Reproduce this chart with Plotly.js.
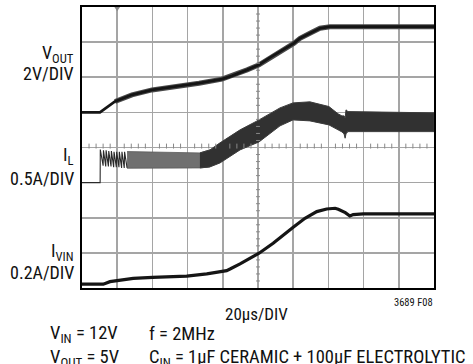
<!DOCTYPE html>
<html>
<head>
<meta charset="utf-8">
<script src="https://cdn.plot.ly/plotly-3.0.1.min.js"></script>
<style>html,body{margin:0;padding:0;background:#fff;}#chart{width:473px;height:364px;}</style>
</head>
<body>
<div id="chart"></div>
<script>
// ---- data (time in µs, 20µs/DIV) ----
const timeVout = [0, 10.2, 18.75, 28.4, 39.8, 56.8, 66.5, 79.5, 85.2, 93.8, 100.6, 106.8, 112.5, 120.5, 123.9, 129.5, 135.2, 140.9, 200];
const vout     = [0, 0, 0.62, 1.0, 1.28, 1.51, 1.66, 1.89, 2.08, 2.42, 2.71, 3.12, 3.45, 3.94, 4.22, 4.51, 4.79, 4.88, 4.88]; // V

const timeIlStart = [0, 10.3, 10.4, 12.0, 12.2, 13.5, 13.7, 15.0, 15.2, 16.5, 16.7, 18.0, 18.2, 19.5, 19.7, 21.0, 21.2, 22.5, 22.7, 24.0, 24.2, 25.6];
const ilStart     = [0, 0, 0.47, 0.24, 0.46, 0.23, 0.46, 0.23, 0.45, 0.23, 0.45, 0.22, 0.44, 0.22, 0.44, 0.22, 0.44, 0.21, 0.44, 0.21, 0.44, 0.21]; // A

const timeIlBand = [25.6, 44.3, 67.0, 72.7, 78.4, 89.8, 100.6, 112.5, 119.9, 129.5, 140.3, 145.5, 147.7, 148.9, 149.5, 150.0, 151.1, 200];
const ilUpper    = [0.442, 0.437, 0.423, 0.466, 0.566, 0.751, 0.893, 1.064, 1.135, 1.150, 1.083, 0.979, 0.950, 0.950, 0.922, 1.036, 1.011, 0.993]; // A
const ilLower    = [0.205, 0.205, 0.209, 0.224, 0.280, 0.466, 0.580, 0.808, 0.893, 0.879, 0.822, 0.751, 0.722, 0.694, 0.632, 0.694, 0.726, 0.726]; // A

const timeIvin = [0, 12.1, 15.9, 19.7, 29.1, 40.1, 59.5, 70.9, 82.2, 84.1, 89.8, 100.6, 108.6, 120.0, 126.7, 133.4, 139.0, 143.8, 145.6, 149.6, 152.2, 154.1, 159.8, 200];
const ivin     = [0, 0, 0.014, 0.020, 0.033, 0.039, 0.046, 0.058, 0.077, 0.086, 0.115, 0.176, 0.233, 0.324, 0.375, 0.413, 0.428, 0.432, 0.426, 0.407, 0.388, 0.396, 0.400, 0.400]; // A

const chLabels = ["V<sub>OUT</sub>", "2V/DIV", "I<sub>L</sub>", "0.5A/DIV", "I<sub>VIN</sub>", "0.2A/DIV"];
const xLabel = "20µs/DIV";
const figId = "3689 F08";
const notes = ["V<sub>IN</sub> = 12V", "f = 2MHz", "V<sub>OUT</sub> = 5V", "C<sub>IN</sub> = 1µF CERAMIC + 100µF ELECTROLYTIC"];

// channel scale (units per division) and ground position (divisions)
const voutScale = 2, voutGnd = 5;
const ilScale = 0.5, ilGnd = 3;
const ivinScale = 0.2, ivinGnd = 0.11;
const toDiv = (arr, s, g) => arr.map(v => g + v / s);

const FONT = "'Liberation Sans Narrow', 'Arial Narrow', 'Roboto Condensed', 'Liberation Sans', sans-serif";

// band split
function bandPoly(t0, t1) {
  const idx = timeIlBand.map((t, i) => i).filter(i => timeIlBand[i] >= t0 && timeIlBand[i] <= t1);
  const xs = idx.map(i => timeIlBand[i]);
  const up = idx.map(i => ilGnd + ilUpper[i] / ilScale);
  const lo = idx.map(i => ilGnd + ilLower[i] / ilScale);
  return { x: xs.concat(xs.slice().reverse()), y: up.concat(lo.slice().reverse()) };
}
const b1 = bandPoly(0, 72.7), b2 = bandPoly(67, 200);

const traces = [
  { x: b1.x, y: b1.y, mode: 'lines', fill: 'toself', fillcolor: '#707070', line: { color: '#5a5a5a', width: 0.8 }, hoverinfo: 'skip' },
  { x: b2.x, y: b2.y, mode: 'lines', fill: 'toself', fillcolor: '#313131', line: { color: '#3c3c3c', width: 1 }, hoverinfo: 'skip' },
  { x: timeIlStart, y: toDiv(ilStart, ilScale, ilGnd), mode: 'lines', line: { color: '#2a2a2a', width: 1.1 } },
  { x: timeVout.slice(2), y: toDiv(vout.slice(2), voutScale, voutGnd), mode: 'lines', line: { color: '#4a4a4a', width: 5 } },
  { x: timeVout, y: toDiv(vout, voutScale, voutGnd), mode: 'lines', line: { color: '#151515', width: 2.8 } },
  { x: timeIvin, y: toDiv(ivin, ivinScale, ivinGnd), mode: 'lines', line: { color: '#151515', width: 3.2 } }
];

// graticule minor ticks on centre lines
const shapes = [];
for (let i = 1; i < 50; i++) {
  if (i % 5 === 0) continue;
  const x = i * 4;
  shapes.push({ type: 'line', xref: 'x', yref: 'y', x0: x, x1: x, y0: 3.97, y1: 4.11, line: { color: '#888', width: 1 } });
}
for (let j = 1; j < 40; j++) {
  if (j % 5 === 0) continue;
  const y = j * 0.2;
  shapes.push({ type: 'line', xref: 'x', yref: 'y', x0: 98.9, x1: 101.1, y0: y, y1: y, line: { color: '#888', width: 1 } });
}
// trigger marker
shapes.push({ type: 'path', xref: 'x', yref: 'y', path: 'M 18.4,8 L 21.6,8 L 20,7.88 Z', fillcolor: '#888', line: { width: 0 } });

const ann = (text, x, y, xa, size, extra) => Object.assign({ text, x, y, xref: 'paper', yref: 'paper', xanchor: xa, yanchor: 'middle', showarrow: false, font: { family: FONT, size, color: '#111' } }, extra || {});

const annotations = [
  ann(chLabels[0], -0.017, 0.833, 'right', 18),
  ann(chLabels[1], -0.017, 0.765, 'right', 18),
  ann(chLabels[2], -0.017, 0.470, 'right', 18),
  ann(chLabels[3], -0.017, 0.390, 'right', 18),
  ann(chLabels[4], -0.017, 0.127, 'right', 18),
  ann(chLabels[5], -0.017, 0.055, 'right', 18),
  ann(xLabel, 0.497, -0.0925, 'center', 17),
  ann(figId, 1.003, -0.052, 'right', 10.5),
  ann(notes[0], -0.0966, -0.164, 'left', 18.5),
  ann(notes[1], 0.1847, -0.164, 'left', 18.5),
  ann(notes[2], -0.0966, -0.249, 'left', 18.5),
  ann(notes[3], 0.1847, -0.249, 'left', 18.5)
];

const layout = {
  width: 473, height: 364,
  margin: { l: 82, r: 39, t: 7, b: 76, pad: 0 },
  paper_bgcolor: '#fff', plot_bgcolor: '#fff',
  showlegend: false,
  font: { family: FONT },
  xaxis: { range: [0, 200], dtick: 20, tick0: 0, showgrid: true, gridcolor: '#a5a5a5', gridwidth: 1.6, zeroline: false, showticklabels: false, ticks: '', showline: true, mirror: true, linecolor: '#000', linewidth: 1.6, fixedrange: true },
  yaxis: { range: [0, 8], dtick: 1, tick0: 0, showgrid: true, gridcolor: '#a5a5a5', gridwidth: 1.6, zeroline: false, showticklabels: false, ticks: '', showline: true, mirror: true, linecolor: '#000', linewidth: 1.6, fixedrange: true },
  shapes, annotations
};

Plotly.newPlot('chart', traces, layout, { staticPlot: true, displayModeBar: false });
</script>
</body>
</html>
